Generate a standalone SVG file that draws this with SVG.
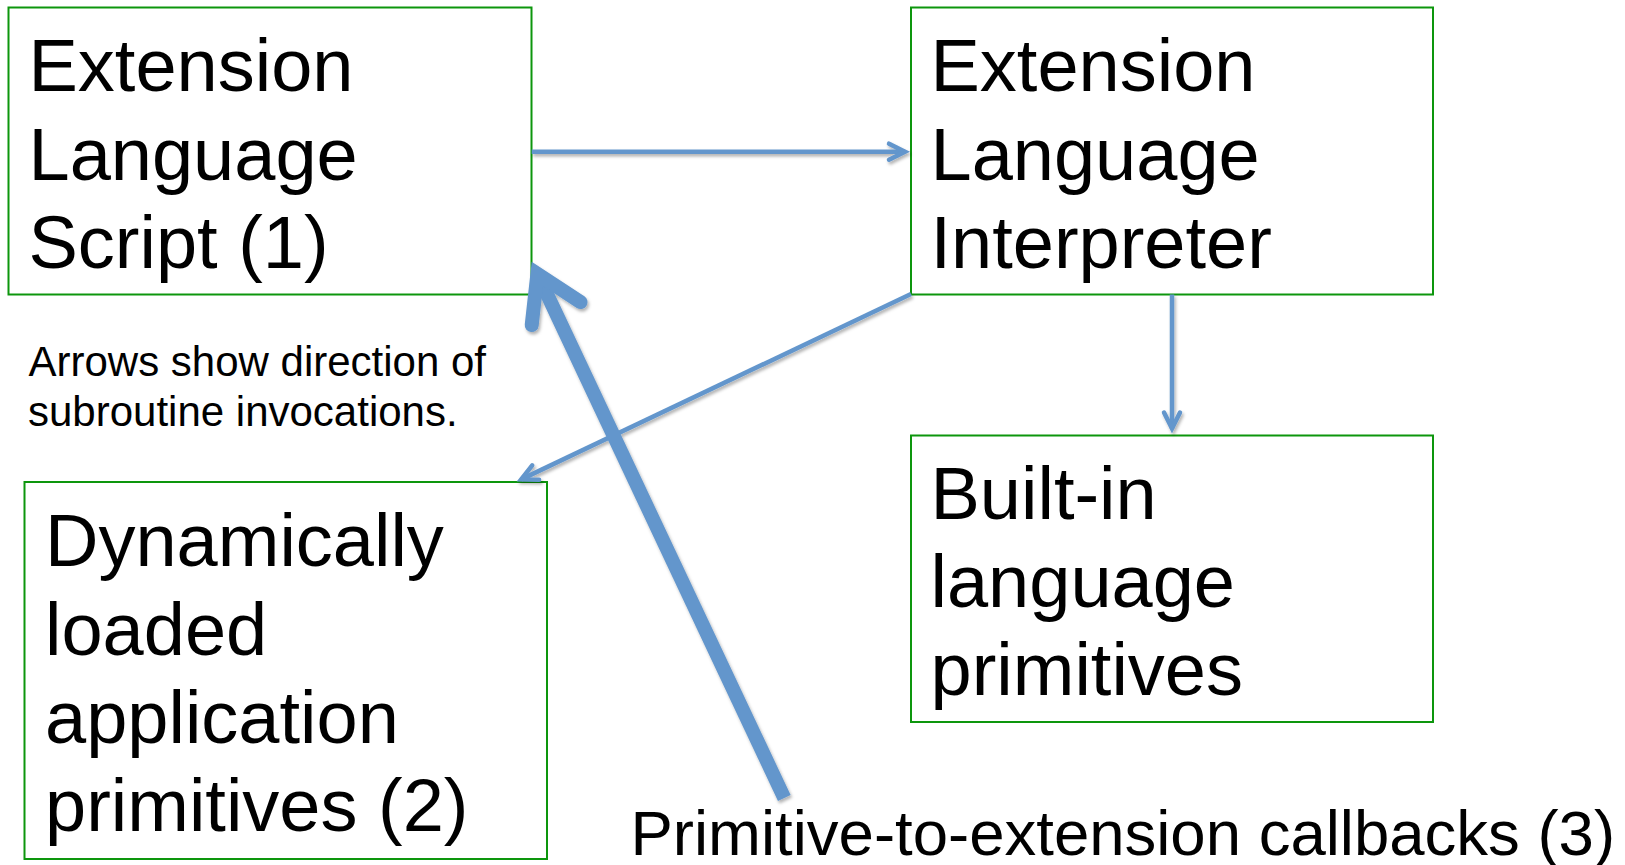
<svg xmlns="http://www.w3.org/2000/svg" width="1625" height="865" viewBox="0 0 1625 865">
  <style>
    .box { fill: #ffffff; stroke: #0d960d; stroke-width: 2; }
    .label { font-family: "Liberation Sans", Arial, sans-serif; font-size: 74px; fill: #000000; }
    .note { font-family: "Liberation Sans", Arial, sans-serif; font-size: 42px; fill: #000000; }
    .caption { font-family: "Liberation Sans", Arial, sans-serif; font-size: 63.5px; fill: #000000; }
    .wire { fill: none; stroke: #6396cc; stroke-linecap: butt; }
    .thin { stroke-width: 4.5; marker-end: url(#head-thin); }
    .thick { stroke-width: 14; marker-end: url(#head-thick); }
  </style>
  <defs>
    <!-- open chevron heads, round ends, mitred point -->
    <marker id="head-thin" markerUnits="userSpaceOnUse" orient="auto" refX="0" refY="0"
            markerWidth="40" markerHeight="40" overflow="visible">
      <path d="M -16,-8 L 0,0 L -16,8" fill="none" stroke="#6396cc" stroke-width="4.5"
            stroke-linecap="round" stroke-linejoin="miter"/>
    </marker>
    <marker id="head-thick" markerUnits="userSpaceOnUse" orient="auto" refX="0" refY="0"
            markerWidth="120" markerHeight="120" overflow="visible">
      <path d="M -44,-27 L 0,0 L -44,27" fill="none" stroke="#6396cc" stroke-width="14"
            stroke-linecap="round" stroke-linejoin="miter"/>
    </marker>
    <filter id="soft-shadow" x="-10%" y="-10%" width="120%" height="120%">
      <feDropShadow dx="1.5" dy="2.5" stdDeviation="1.8" flood-color="#000000" flood-opacity="0.3"/>
    </filter>
  </defs>

  <rect x="0" y="0" width="1625" height="865" fill="#ffffff"/>

  <g id="script">
    <rect class="box" x="8.5" y="7.5" width="523" height="287"/>
    <text class="label" x="28.5" y="91">Extension</text>
    <text class="label" x="28.5" y="179.5">Language</text>
    <text class="label" x="28.5" y="268">Script (1)</text>
  </g>

  <g id="interpreter">
    <rect class="box" x="911" y="7.5" width="522" height="287"/>
    <text class="label" x="930.5" y="91">Extension</text>
    <text class="label" x="930.5" y="179.5">Language</text>
    <text class="label" x="930.5" y="268">Interpreter</text>
  </g>

  <g id="builtins">
    <rect class="box" x="911" y="435.5" width="522" height="286.5"/>
    <text class="label" x="930.5" y="519">Built-in</text>
    <text class="label" x="930.5" y="607">language</text>
    <text class="label" x="930.5" y="695">primitives</text>
  </g>

  <g id="app-primitives">
    <rect class="box" x="24.5" y="482" width="522.5" height="377"/>
    <text class="label" x="45" y="566">Dynamically</text>
    <text class="label" x="45" y="655">loaded</text>
    <text class="label" x="45" y="743">application</text>
    <text class="label" x="45" y="831">primitives (2)</text>
  </g>

  <g id="legend">
    <text class="note" x="28.5" y="376">Arrows show direction of</text>
    <text class="note" x="28" y="426">subroutine invocations.</text>
  </g>

  <g id="callbacks-label">
    <text class="caption" x="630.5" y="855">Primitive-to-extension callbacks (3)</text>
  </g>

  <g id="connectors" filter="url(#soft-shadow)">
    <!-- script -> interpreter -->
    <line class="wire thin" x1="531.7" y1="151.7" x2="905" y2="151.7"/>
    <!-- interpreter -> built-in primitives -->
    <line class="wire thin" x1="1172" y1="294.5" x2="1172" y2="428.5"/>
    <!-- interpreter -> dynamically loaded primitives -->
    <line class="wire thin" x1="911" y1="294" x2="521.2" y2="479.4"/>
    <!-- callback: primitives -> script -->
    <line class="wire thick" x1="784.3" y1="798" x2="537.4" y2="273.8"/>
  </g>
</svg>
